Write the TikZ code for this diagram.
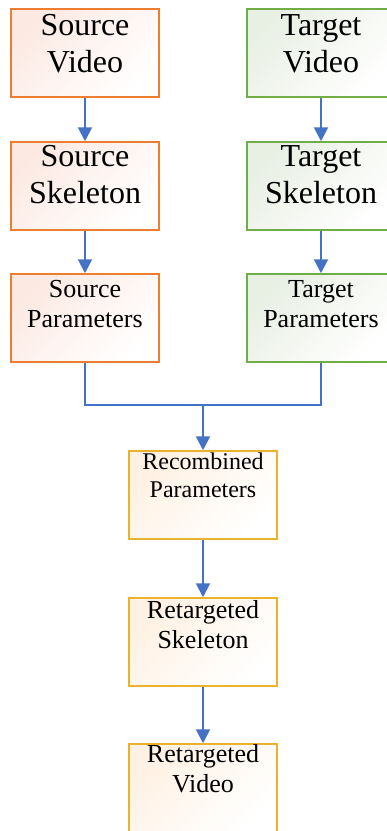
\documentclass[tikz,border=0pt]{standalone}
\usepackage{fontspec}
\setmainfont{Liberation Serif}
\usetikzlibrary{arrows.meta}
\definecolor{srcB}{HTML}{ED7D31}
\definecolor{tgtB}{HTML}{70AD47}
\definecolor{outB}{HTML}{EBB22E}
\definecolor{srcF}{HTML}{FCE9E2}
\definecolor{tgtF}{HTML}{E8EFE3}
\definecolor{outF}{HTML}{FFF1E3}
\definecolor{arrC}{HTML}{4472C4}
\begin{document}
\begin{tikzpicture}[x=1pt,y=-1pt,
  box/.style={line width=1.5pt, minimum width=148pt, minimum height=88pt, inner sep=0pt},
  srcbox/.style={box, draw=srcB, top color=srcF, bottom color=white, shading angle=45},
  tgtbox/.style={box, draw=tgtB, top color=tgtF, bottom color=white, shading angle=45},
  outbox/.style={box, draw=outB, top color=outF, bottom color=white, shading angle=45},
  bigtxt/.style={anchor=base, align=center, inner sep=0pt, font=\fontsize{32}{37}\selectfont},
  midtxt/.style={anchor=base, align=center, inner sep=0pt, font=\fontsize{26}{30}\selectfont},
  smtxt/.style={anchor=base, align=center, inner sep=0pt, font=\fontsize{24}{28}\selectfont},
  arr/.style={draw=arrC, line width=2pt, -{Triangle[width=14pt,length=14pt]}},
  conn/.style={draw=arrC, line width=2pt}]
\useasboundingbox (0,0) rectangle (387,831);
% boxes
\node[srcbox] (sv) at (85,53) {};
\node[srcbox] (ss) at (85,186) {};
\node[srcbox] (sp) at (85,318) {};
\node[tgtbox] (tv) at (321,53) {};
\node[tgtbox] (ts) at (321,186) {};
\node[tgtbox] (tp) at (321,318) {};
\node[outbox] (rp) at (203,495) {};
\node[outbox] (rs) at (203,642) {};
\node[outbox] (rv) at (203,788) {};
% texts (base = baseline of last line)
\node[bigtxt] (svt) at (85,72) {Source\\Video};
\node[bigtxt] (sst) at (85,203) {Source\\Skeleton};
\node[midtxt] (spt) at (85,327) {Source\\Parameters};
\node[bigtxt] (tvt) at (321,72) {Target\\Video};
\node[bigtxt] (tst) at (321,203) {Target\\Skeleton};
\node[midtxt] (tpt) at (321,327) {Target\\Parameters};
\node[smtxt] (rpt) at (203,497) {Recombined\\Parameters};
\node[midtxt] (rst) at (203,648) {Retargeted\\Skeleton};
\node[midtxt] (rvt) at (203,792) {Retargeted\\Video};
% connectors
\coordinate (j) at (203,405);
\draw[arr] (sv) -- (ss);
\draw[arr] (ss) -- (sp);
\draw[arr] (tv) -- (ts);
\draw[arr] (ts) -- (tp);
\draw[conn] (sp.south) |- (j) -| (tp.south);
\draw[arr] (j) -- (rp.north);
\draw[arr] (rp) -- (rs);
\draw[arr] (rs) -- (rv);
\end{tikzpicture}
\end{document}
